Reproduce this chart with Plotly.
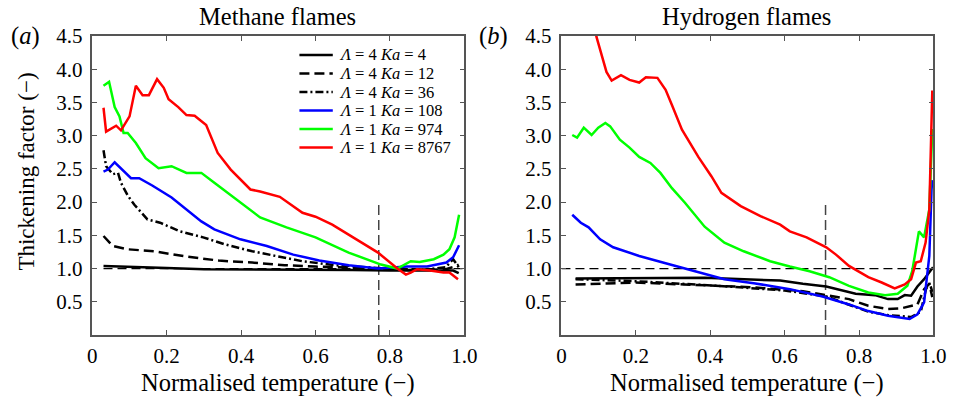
import plotly.graph_objects as go

# ---------------- data ----------------
series_labels = ["<i>Λ</i> = 4 <i>Ka</i> = 4", "<i>Λ</i> = 4 <i>Ka</i> = 12", "<i>Λ</i> = 4 <i>Ka</i> = 36",
                 "<i>Λ</i> = 1 <i>Ka</i> = 108", "<i>Λ</i> = 1 <i>Ka</i> = 974", "<i>Λ</i> = 1 <i>Ka</i> = 8767"]

# Methane flames (panel a)
m_ka4_x = [0.03, 0.1, 0.2, 0.3, 0.4, 0.5, 0.6, 0.7, 0.8, 0.85, 0.9, 0.95, 0.97, 0.985]
m_ka4_y = [1.04, 1.03, 1.01, 0.99, 0.99, 0.99, 0.98, 0.98, 0.97, 0.97, 0.97, 0.98, 0.97, 0.93]
m_ka12_x = [0.03, 0.045, 0.055, 0.095, 0.166, 0.253, 0.34, 0.43, 0.517, 0.6, 0.7, 0.8, 0.85, 0.9, 0.95, 0.975, 0.985]
m_ka12_y = [1.49, 1.40, 1.34, 1.29, 1.26, 1.18, 1.12, 1.09, 1.05, 1.03, 1.01, 0.99, 0.98, 0.98, 0.99, 1.03, 1.06]
m_ka36_x = [0.03, 0.037, 0.055, 0.069, 0.077, 0.095, 0.113, 0.148, 0.182, 0.235, 0.298, 0.359, 0.43, 0.517,
            0.565, 0.654, 0.741, 0.8, 0.85, 0.9, 0.95, 0.97, 0.985]
m_ka36_y = [2.78, 2.54, 2.42, 2.44, 2.29, 2.10, 1.96, 1.74, 1.69, 1.56, 1.47, 1.36, 1.26, 1.16,
            1.11, 1.05, 1.02, 0.99, 0.98, 0.99, 1.02, 1.14, 1.02]
m_ka108_x = [0.03, 0.042, 0.06, 0.077, 0.104, 0.126, 0.161, 0.213, 0.231, 0.293, 0.328, 0.398, 0.469, 0.54,
             0.61, 0.689, 0.768, 0.846, 0.9, 0.952, 0.97, 0.986]
m_ka108_y = [2.46, 2.49, 2.60, 2.51, 2.36, 2.36, 2.25, 2.07, 1.99, 1.71, 1.59, 1.44, 1.34, 1.21,
             1.12, 1.05, 1.00, 1.03, 1.03, 1.09, 1.17, 1.35]
m_ka974_x = [0.03, 0.045, 0.06, 0.073, 0.084, 0.095, 0.117, 0.143, 0.178, 0.213, 0.253, 0.293, 0.328, 0.38,
             0.451, 0.522, 0.60, 0.689, 0.776, 0.82, 0.856, 0.88, 0.918, 0.944, 0.96, 0.974, 0.986]
m_ka974_y = [3.75, 3.81, 3.43, 3.29, 3.04, 3.04, 2.89, 2.66, 2.51, 2.54, 2.44, 2.44, 2.29, 2.07,
             1.77, 1.62, 1.47, 1.24, 1.06, 1.00, 1.11, 1.10, 1.14, 1.21, 1.29, 1.47, 1.81]
m_ka8767_x = [0.03, 0.037, 0.064, 0.077, 0.10, 0.117, 0.135, 0.152, 0.174, 0.192, 0.205, 0.231, 0.253, 0.275,
              0.306, 0.337, 0.372, 0.398, 0.425, 0.451, 0.504, 0.565, 0.60, 0.645, 0.733, 0.768, 0.82, 0.843,
              0.856, 0.873, 0.908, 0.944, 0.96, 0.983]
m_ka8767_y = [3.42, 3.06, 3.15, 3.08, 3.29, 3.75, 3.61, 3.61, 3.85, 3.72, 3.55, 3.43, 3.31, 3.30,
              3.16, 2.74, 2.49, 2.34, 2.19, 2.16, 2.08, 1.84, 1.78, 1.66, 1.36, 1.24, 1.00, 0.91,
              0.94, 0.99, 0.97, 0.94, 0.94, 0.84]

# Hydrogen flames (panel b)
h_ka4_x = [0.038, 0.21, 0.385, 0.588, 0.649, 0.712, 0.738, 0.791, 0.843, 0.878, 0.904, 0.923, 0.94, 0.957, 0.975, 0.999]
h_ka4_y = [0.85, 0.85, 0.86, 0.82, 0.77, 0.73, 0.69, 0.62, 0.60, 0.54, 0.54, 0.60, 0.59, 0.73, 0.84, 1.02]
h_ka12_x = [0.038, 0.2, 0.33, 0.51, 0.649, 0.712, 0.773, 0.825, 0.878, 0.913, 0.957, 0.975, 0.989, 0.997]
h_ka12_y = [0.76, 0.79, 0.76, 0.72, 0.66, 0.60, 0.54, 0.44, 0.39, 0.40, 0.46, 0.69, 0.77, 0.57]
h_ka36_x = [0.038, 0.2, 0.42, 0.6, 0.712, 0.825, 0.878, 0.94, 0.966, 0.98, 0.99, 0.997]
h_ka36_y = [0.84, 0.81, 0.74, 0.67, 0.58, 0.35, 0.30, 0.27, 0.35, 0.69, 0.78, 0.65]
h_ka108_x = [0.029, 0.052, 0.073, 0.104, 0.139, 0.209, 0.28, 0.342, 0.438, 0.517, 0.614, 0.702, 0.773, 0.825,
             0.878, 0.936, 0.957, 0.975, 0.989, 0.995, 0.997]
h_ka108_y = [1.81, 1.69, 1.62, 1.44, 1.32, 1.19, 1.08, 0.99, 0.84, 0.78, 0.69, 0.58, 0.46, 0.36,
             0.29, 0.24, 0.31, 0.49, 1.19, 2.19, 2.33]
h_ka974_x = [0.029, 0.042, 0.06, 0.081, 0.099, 0.118, 0.131, 0.157, 0.183, 0.209, 0.239, 0.266, 0.297, 0.332,
             0.385, 0.438, 0.49, 0.561, 0.614, 0.667, 0.72, 0.773, 0.825, 0.87, 0.904, 0.93, 0.943, 0.961,
             0.975, 0.989, 0.997]
h_ka974_y = [3.01, 2.97, 3.12, 3.01, 3.12, 3.19, 3.14, 2.94, 2.82, 2.68, 2.59, 2.44, 2.21, 1.99,
             1.63, 1.39, 1.26, 1.11, 1.03, 0.96, 0.87, 0.74, 0.64, 0.60, 0.62, 0.74, 0.96, 1.56,
             1.47, 1.89, 3.10]
h_ka8767_x = [0.085, 0.094, 0.121, 0.135, 0.16, 0.183, 0.209, 0.227, 0.258, 0.28, 0.297, 0.324, 0.368, 0.403,
              0.43, 0.482, 0.535, 0.588, 0.614, 0.659, 0.712, 0.738, 0.773, 0.825, 0.861, 0.896, 0.923,
              0.94, 0.953, 0.966, 0.979, 0.989, 0.997]
h_ka8767_y = [4.75, 4.49, 3.96, 3.83, 3.91, 3.84, 3.80, 3.88, 3.87, 3.69, 3.46, 3.09, 2.68, 2.39,
              2.14, 1.94, 1.79, 1.66, 1.56, 1.47, 1.32, 1.21, 1.04, 0.87, 0.79, 0.70, 0.76,
              0.84, 1.09, 1.11, 1.39, 1.89, 3.68]

reference_level = 1.0
methane_marker_x = 0.77
hydrogen_marker_x = 0.71
marker_line_y = [0.0, 2.0]

x_tick_vals = [0, 0.2, 0.4, 0.6, 0.8, 1.0]
x_tick_text = ["0", "0.2", "0.4", "0.6", "0.8", "1.0"]
y_tick_vals = [0.5, 1.0, 1.5, 2.0, 2.5, 3.0, 3.5, 4.0, 4.5]
y_tick_text = ["0.5", "1.0", "1.5", "2.0", "2.5", "3.0", "3.5", "4.0", "4.5"]

# ---------------- style ----------------
FONT = "Liberation Serif"
colors = ["black", "black", "black", "#0000ff", "#00ff00", "#ff0000"]
dashes = ["solid", "10px,5px", "8px,3px,2px,3px", "solid", "solid", "solid"]
LW = 2.5

methane = [(m_ka4_x, m_ka4_y), (m_ka12_x, m_ka12_y), (m_ka36_x, m_ka36_y),
           (m_ka108_x, m_ka108_y), (m_ka974_x, m_ka974_y), (m_ka8767_x, m_ka8767_y)]
hydrogen = [(h_ka4_x, h_ka4_y), (h_ka12_x, h_ka12_y), (h_ka36_x, h_ka36_y),
            (h_ka108_x, h_ka108_y), (h_ka974_x, h_ka974_y), (h_ka8767_x, h_ka8767_y)]

fig = go.Figure()

# reference lines
for xa, ya, vx, x0 in [("x", "y", methane_marker_x, 0.03), ("x2", "y2", hydrogen_marker_x, 0.0)]:
    fig.add_trace(go.Scatter(x=[x0, 1.0], y=[reference_level, reference_level], mode="lines",
                             line=dict(color="black", width=1.3, dash="9px,5px"),
                             xaxis=xa, yaxis=ya, showlegend=False, hoverinfo="skip"))
    fig.add_trace(go.Scatter(x=[vx, vx], y=marker_line_y, mode="lines",
                             line=dict(color="#444444", width=1.5, dash="10px,5px"),
                             xaxis=xa, yaxis=ya, showlegend=False, hoverinfo="skip"))

for data, xa, ya in [(methane, "x", "y"), (hydrogen, "x2", "y2")]:
    for i, (xs, ys) in enumerate(data):
        fig.add_trace(go.Scatter(x=xs, y=ys, mode="lines", name=series_labels[i],
                                 line=dict(color=colors[i], width=LW, dash=dashes[i]),
                                 xaxis=xa, yaxis=ya, showlegend=False))

W, H = 968, 399
T, B = 36, 64
PH = H - T - B


def px(x):
    return x / W


def py(y):
    return (H - B - y) / PH


axis_common = dict(showline=True, mirror="ticks", ticks="inside", ticklen=5, tickwidth=1.2,
                   linecolor="#555555", linewidth=1.5, tickcolor="#555555",
                   showgrid=False, zeroline=False,
                   tickfont=dict(family=FONT, size=21, color="black"))

fig.update_layout(
    width=W, height=H,
    margin=dict(l=0, r=0, t=T, b=B),
    font=dict(family=FONT, color="black"),
    paper_bgcolor="white", plot_bgcolor="white",
    showlegend=False,
    xaxis=dict(domain=[px(89), px(468)], range=[0, 1], tickvals=x_tick_vals, ticktext=x_tick_text,
               anchor="y", ticklabelstandoff=1, **axis_common),
    yaxis=dict(domain=[0, 1], range=[0, 4.5], tickvals=y_tick_vals, ticktext=y_tick_text,
               anchor="x", ticklabelstandoff=4, **axis_common),
    xaxis2=dict(domain=[px(567), px(946)], range=[0, 1], tickvals=x_tick_vals, ticktext=x_tick_text,
                anchor="y2", ticklabelstandoff=1, **axis_common),
    yaxis2=dict(domain=[0, 1], range=[0, 4.5], tickvals=y_tick_vals, ticktext=y_tick_text,
                anchor="x2", ticklabelstandoff=4, **axis_common),
)

annots = []


def f(size):
    return dict(family=FONT, size=size, color="black")


annots.append(dict(text="Methane flames", x=px(278), y=py(16), xref="paper", yref="paper",
                   showarrow=False, font=f(24.5), xanchor="center", yanchor="middle"))
annots.append(dict(text="Hydrogen flames", x=px(756), y=py(16), xref="paper", yref="paper",
                   showarrow=False, font=f(24.5), xanchor="center", yanchor="middle"))
annots.append(dict(text="(<i>a</i>)", x=px(21), y=py(36), xref="paper", yref="paper",
                   showarrow=False, font=f(24.5), xanchor="center", yanchor="middle"))
annots.append(dict(text="(<i>b</i>)", x=px(498), y=py(36), xref="paper", yref="paper",
                   showarrow=False, font=f(24.5), xanchor="center", yanchor="middle"))
annots.append(dict(text="Normalised temperature (−)", x=px(278), y=py(383), xref="paper", yref="paper",
                   showarrow=False, font=f(24.5), xanchor="center", yanchor="middle", borderpad=0))
annots.append(dict(text="Normalised temperature (−)", x=px(756), y=py(383), xref="paper", yref="paper",
                   showarrow=False, font=f(24.5), xanchor="center", yanchor="middle", borderpad=0))
annots.append(dict(text="Thickening factor (−)", x=px(21), y=py(172), xref="paper", yref="paper",
                   showarrow=False, font=f(23), textangle=-90, xanchor="center", yanchor="middle"))

# legend (panel a, upper right)
shapes = []
leg_rows = [55, 73.5, 92, 110.5, 129, 147.5]
for i, lab in enumerate(series_labels):
    yy = py(leg_rows[i])
    shapes.append(dict(type="line", xref="paper", yref="paper", x0=px(300), x1=px(334), y0=yy, y1=yy,
                       line=dict(color=colors[i], width=LW, dash=dashes[i])))
    annots.append(dict(text=lab, x=px(339), y=yy, xref="paper", yref="paper", showarrow=False,
                       font=f(16.5), xanchor="left", yanchor="middle", borderpad=0))

fig.update_layout(annotations=annots, shapes=shapes)
fig.write_html("out.html", config={"displayModeBar": False},
               post_script="document.body.style.margin='0px';document.body.style.padding='0px';")
